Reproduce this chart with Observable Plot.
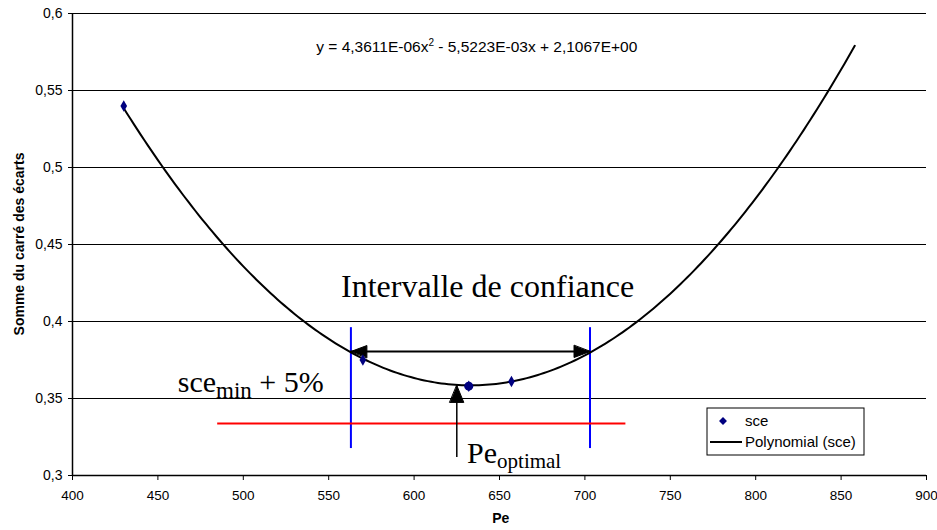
<!DOCTYPE html>
<html><head><meta charset="utf-8">
<script src="https://cdn.jsdelivr.net/npm/d3@7"></script>
<script src="https://cdn.jsdelivr.net/npm/@observablehq/plot@0.6"></script>
<style>
body{margin:0;background:#fff;}
#wrap{position:relative;width:937px;height:530px;}
</style></head><body><div id="wrap"></div>
<script>
// --- data ---
const xTicks = [400, 450, 500, 550, 600, 650, 700, 750, 800, 850, 900];
const yTicks = [0.3, 0.35, 0.4, 0.45, 0.5, 0.55, 0.6];
const sceX = [430, 570, 632, 657];
const sceY = [0.540, 0.375, 0.358, 0.361];
// trend line y = c2*x^2 + c1*x + c0 (coefficients printed on the chart)
const polyCoef = [2.1067, -5.5223e-3, 4.3611e-6];
const polyRange = [430, 858];
const optimum = [632, 0.358];
const intervalX = [563, 703];
const intervalY = 0.3805;
const blueRange = [0.3175, 0.396];
const redX = [485, 724];
const redY = 0.3338;
const peArrowX = 625;
const peArrowY = [0.3117, 0.3585];
const equationText = "y = 4,3611E-06x";
const equationRest = " - 5,5223E-03x + 2,1067E+00";
const legendLabels = ["sce", "Polynomial (sce)"];

const sce = sceX.map((x, i) => ({x, y: sceY[i]}));
const poly = x => polyCoef[0] + polyCoef[1] * x + polyCoef[2] * x * x;
const curve = d3.range(polyRange[0], polyRange[1] + 0.01, 2).map(x => ({x, y: poly(x)}));
const fmt = d => String(d).replace(".", ",");

const head = {
  draw(ctx, len, rad) { ctx.moveTo(0, -len); ctx.lineTo(rad, 0); ctx.lineTo(-rad, 0); ctx.closePath(); }
};

const chart = Plot.plot({
  width: 937, height: 530,
  marginLeft: 72, marginRight: 11, marginTop: 13, marginBottom: 55,
  x: {domain: [400, 900], label: null},
  y: {domain: [0.3, 0.6], label: null},
  style: {fontFamily: "'Liberation Sans', Arial, sans-serif", fontSize: "14px", color: "black", background: "white"},
  marks: [
    Plot.gridY(yTicks, {stroke: "black", strokeOpacity: 1, strokeWidth: 1}),
    Plot.ruleX([400], {stroke: "black", strokeWidth: 1.5}),
    Plot.ruleY([0.3], {stroke: "black", strokeWidth: 1.5}),
    Plot.axisY(yTicks, {tickFormat: fmt, tickSize: 4, tickPadding: 6, fontSize: 14, label: null}),
    Plot.axisX(xTicks, {tickSize: 5, tickPadding: 10, fontSize: 13.5, label: null}),
    Plot.ruleX(intervalX, {y1: blueRange[0], y2: blueRange[1], stroke: "#0000ff", strokeWidth: 2}),
    Plot.ruleY([redY], {x1: redX[0], x2: redX[1], stroke: "#ff0000", strokeWidth: 2}),
    Plot.line(curve, {x: "x", y: "y", stroke: "black", strokeWidth: 2}),
    Plot.ruleY([intervalY], {x1: intervalX[0], x2: intervalX[1], stroke: "black", strokeWidth: 2}),
    Plot.vector([{x: intervalX[0], r: 270}, {x: intervalX[1], r: 90}], {
      x: "x", y: () => intervalY, rotate: "r", length: 16, r: 6, anchor: "end",
      shape: head, fill: "black", stroke: "black", strokeWidth: 1
    }),
    Plot.ruleX([peArrowX], {y1: peArrowY[0], y2: peArrowY[1], stroke: "black", strokeWidth: 1.5}),
    Plot.vector([{x: peArrowX, y: peArrowY[1]}], {
      x: "x", y: "y", rotate: 0, length: 17, r: 7, anchor: "end",
      shape: head, fill: "black", stroke: "black", strokeWidth: 1
    }),
    Plot.dot(sce, {x: "x", y: "y", symbol: "diamond", r: 3.5, fill: "#000080", stroke: "none"}),
    Plot.dot([optimum], {x: d => d[0], y: d => d[1], r: 4.5, fill: "#000080", stroke: "none"})
  ]
});

document.getElementById("wrap").appendChild(chart);
const svg = d3.select(chart);
const X = v => chart.scale("x").apply(v);
const Y = v => chart.scale("y").apply(v);

// axis titles
svg.append("text").attr("transform", `translate(24,${(Y(0.3) + Y(0.6)) / 2}) rotate(-90)`)
  .attr("text-anchor", "middle").attr("font-weight", "bold").attr("font-size", 14)
  .text("Somme du carré des écarts");
svg.append("text").attr("x", X(651)).attr("y", 523).attr("text-anchor", "middle")
  .attr("font-weight", "bold").attr("font-size", 14).text("Pe");

// equation
const eq = svg.append("text").attr("x", X(637)).attr("y", Y(0.5747)).attr("text-anchor", "middle").attr("font-size", 15.5);
eq.append("tspan").text(equationText);
eq.append("tspan").attr("dy", -6).attr("font-size", 10).text("2");
eq.append("tspan").attr("dy", 6).text(equationRest);

// annotations (serif)
const serif = "'Liberation Serif', 'Times New Roman', serif";
svg.append("text").attr("x", X(643.3)).attr("y", Y(0.4156)).attr("text-anchor", "middle")
  .attr("font-family", serif).attr("font-size", 32).text("Intervalle de confiance");
const s1 = svg.append("text").attr("x", X(461.9)).attr("y", Y(0.3539)).attr("text-anchor", "start")
  .attr("font-family", serif).attr("font-size", 30);
s1.append("tspan").text("sce");
s1.append("tspan").attr("dy", 6).attr("font-size", 23).text("min");
s1.append("tspan").attr("dy", -6).text(" + 5%");
const s2 = svg.append("text").attr("x", X(631.3)).attr("y", Y(0.3078)).attr("text-anchor", "start")
  .attr("font-family", serif).attr("font-size", 30);
s2.append("tspan").text("Pe");
s2.append("tspan").attr("dy", 5).attr("font-size", 21).text("optimal");

// legend
const lg = svg.append("g").attr("transform", "translate(707,408)");
lg.append("rect").attr("width", 157).attr("height", 47).attr("fill", "white").attr("stroke", "black").attr("stroke-width", 1);
lg.append("path").attr("d", d3.symbol(d3.symbolDiamond2, 40)()).attr("transform", "translate(16,13)").attr("fill", "#000080");
lg.append("text").attr("x", 38).attr("y", 18).attr("text-anchor", "start").attr("font-size", 15).text(legendLabels[0]);
lg.append("line").attr("x1", 3).attr("x2", 35).attr("y1", 34).attr("y2", 34).attr("stroke", "black").attr("stroke-width", 2);
lg.append("text").attr("x", 38).attr("y", 39).attr("text-anchor", "start").attr("font-size", 15).text(legendLabels[1]);
</script>
</body></html>
